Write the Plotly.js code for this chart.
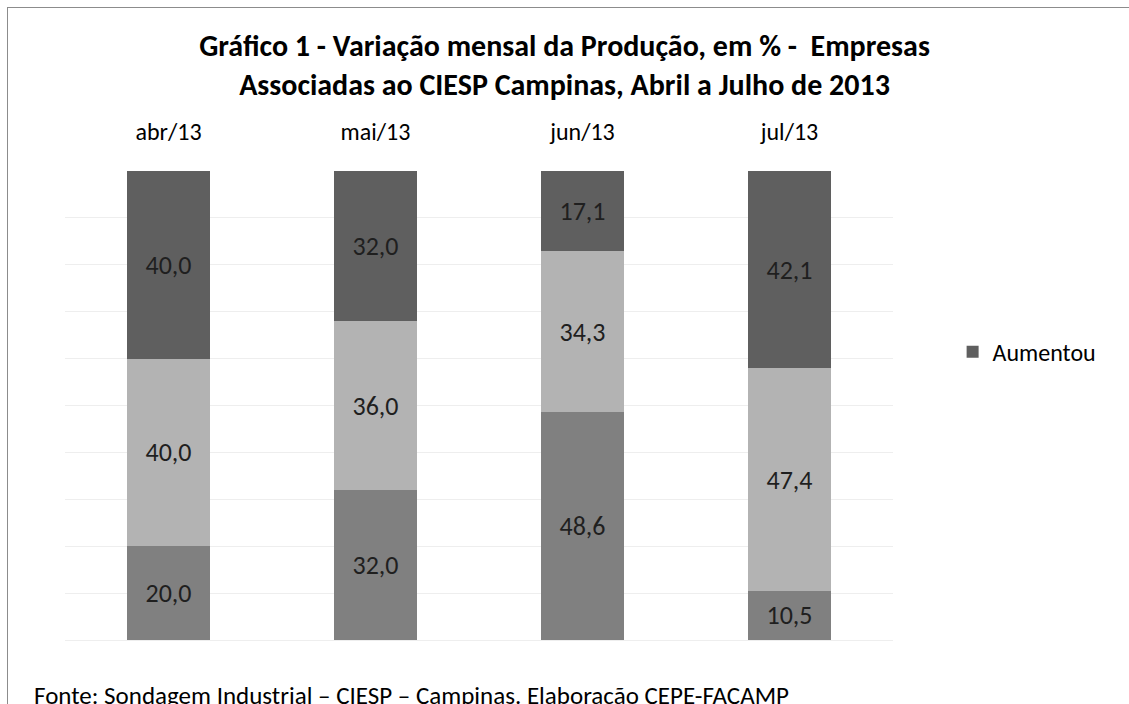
<!DOCTYPE html>
<html>
<head>
<meta charset="utf-8">
<script src="https://cdn.plot.ly/plotly-3.0.1.min.js"></script>
<style>
  html, body { margin: 0; padding: 0; background: #fff; overflow: hidden; }
  #frame { position: absolute; left: 7px; top: 7px; width: 1140px; height: 720px; border: 1px solid #8c8c8c; }
  #chart { position: absolute; left: 0; top: 0; width: 1129px; height: 704px; }
</style>
</head>
<body>
<div id="frame"></div>
<div id="chart"></div>
<script>
// meses da sondagem
var meses = ["abr/13", "mai/13", "jun/13", "jul/13"];

// valores em % (de baixo para cima na barra)
var baixo = [20.0, 32.0, 48.6, 10.5];
var meio = [40.0, 36.0, 34.3, 47.4];
var aumentou = [40.0, 32.0, 17.1, 42.1];

var fonte = "Calibri, Lato, sans-serif";

function serie(nome, valores, cor, legenda) {
    return {
        x: meses,
        y: valores,
        name: nome,
        type: "bar",
        showlegend: legenda,
        marker: { color: cor },
        texttemplate: "%{y:.1f}",
        textposition: "inside",
        insidetextanchor: "middle",
        textangle: 0,
        textfont: { family: fonte, size: 26, color: "#1f1f1f" },
        hoverinfo: "x+y+name"
    };
}

var data = [
    serie("Diminuiu", baixo, "#808080", false),
    serie("Não variou", meio, "#b3b3b3", false),
    serie("Aumentou", aumentou, "#5f5f5f", true)
];

var layout = {
    width: 1129,
    height: 704,
    barmode: "stack",
    bargap: 0.6,
    separators: ",.",
    paper_bgcolor: "rgba(0,0,0,0)",
    plot_bgcolor: "rgba(0,0,0,0)",
    font: { family: fonte, color: "#000" },
    margin: { l: 65, r: 236, t: 171, b: 64 },
    title: {
        text: "<b>Gráfico 1 - Variação mensal da Produção, em % -  Empresas<br>Associadas ao CIESP Campinas, Abril a Julho de 2013</b>",
        font: { family: fonte, size: 30, color: "#000" },
        x: 0.5,
        xanchor: "center",
        y: 0.921,
        yanchor: "top"
    },
    xaxis: {
        side: "top",
        showline: false,
        ticks: "",
        tickfont: { family: fonte, size: 24, color: "#000" },
        ticklabelstandoff: 25
    },
    yaxis: {
        range: [0, 100],
        dtick: 10,
        showticklabels: false,
        showgrid: true,
        gridcolor: "#eeeeee",
        gridwidth: 1,
        zeroline: true,
        zerolinecolor: "#eeeeee",
        fixedrange: true
    },
    legend: {
        x: 1.072,
        y: 0.614,
        xanchor: "left",
        yanchor: "middle",
        font: { family: fonte, size: 24, color: "#000" },
        itemwidth: 30
    },
    annotations: [{
        xref: "paper",
        yref: "paper",
        x: -0.04,
        y: -0.118,
        xanchor: "left",
        yanchor: "middle",
        showarrow: false,
        text: "Fonte: Sondagem Industrial – CIESP – Campinas. Elaboração CEPE-FACAMP",
        font: { family: fonte, size: 25, color: "#000" }
    }]
};

Plotly.newPlot("chart", data, layout, { displayModeBar: false });
</script>
</body>
</html>
